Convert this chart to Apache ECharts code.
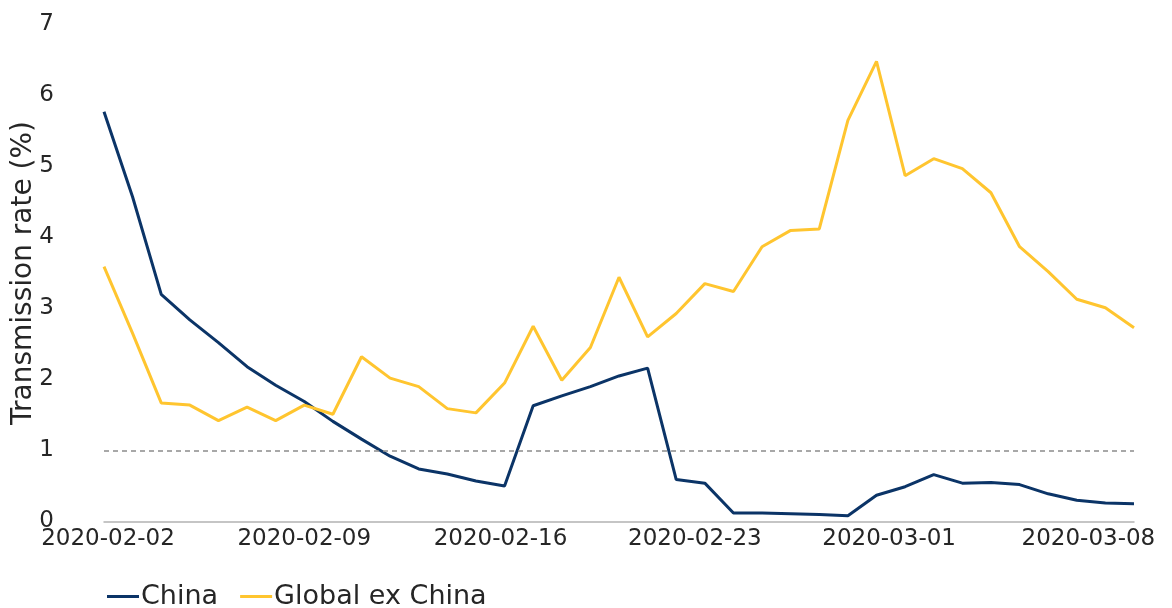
<!DOCTYPE html>
<html>
<head>
<meta charset="utf-8">
<script src="https://cdn.jsdelivr.net/npm/echarts@6/dist/echarts.min.js"></script>
<style>
  html, body { margin: 0; padding: 0; background: #ffffff; }
  #chart { width: 1172px; height: 608px; }
</style>
</head>
<body>
<div id="chart"></div>
<script>
const categories = [
  "2020-02-02","2020-02-03","2020-02-04","2020-02-05","2020-02-06","2020-02-07","2020-02-08",
  "2020-02-09","2020-02-10","2020-02-11","2020-02-12","2020-02-13","2020-02-14","2020-02-15",
  "2020-02-16","2020-02-17","2020-02-18","2020-02-19","2020-02-20","2020-02-21","2020-02-22",
  "2020-02-23","2020-02-24","2020-02-25","2020-02-26","2020-02-27","2020-02-28","2020-02-29",
  "2020-03-01","2020-03-02","2020-03-03","2020-03-04","2020-03-05","2020-03-06","2020-03-07",
  "2020-03-08","2020-03-09"
];
const china = [
  5.77, 4.57, 3.20, 2.84, 2.52, 2.18, 1.92,
  1.69, 1.41, 1.16, 0.92, 0.74, 0.67, 0.57,
  0.50, 1.63, 1.77, 1.90, 2.05, 2.16, 0.59,
  0.54, 0.12, 0.12, 0.11, 0.10, 0.08, 0.37,
  0.49, 0.66, 0.54, 0.55, 0.52, 0.39, 0.30,
  0.26, 0.25
];
const globalExChina = [
  3.59, 2.65, 1.67, 1.64, 1.42, 1.61, 1.42,
  1.64, 1.51, 2.32, 2.02, 1.90, 1.59, 1.53,
  1.95, 2.75, 1.99, 2.45, 3.44, 2.60, 2.93,
  3.35, 3.24, 3.87, 4.10, 4.12, 5.65, 6.48,
  4.87, 5.11, 4.97, 4.63, 3.87, 3.52, 3.13,
  3.01, 2.73
];
const seriesNames = ["China", "Global ex China"];
const yAxisTitle = "Transmission rate (%)";
const thresholdValue = 1;

const FONT = "DejaVu Sans";
const TEXT = "#262626";
const TICK_FONT = 23;

// Style: small horizontal nudges of the x tick labels (px, negative = left), per shown label.
const labelNudge = { 0: 4, 7: 0, 14: -4, 21: -10, 28: -16, 35: -17 };
const richStyles = {};
Object.keys(labelNudge).forEach(function (k) {
  const n = labelNudge[k];
  richStyles['l' + k] = {
    fontFamily: FONT, fontSize: TICK_FONT, color: TEXT,
    padding: n < 0 ? [0, -2 * n, 0, 0] : [0, 0, 0, 2 * n]
  };
});

const chart = echarts.init(document.getElementById('chart'), null, { renderer: 'canvas' });
chart.setOption({
  animation: false,
  backgroundColor: '#ffffff',
  textStyle: { fontFamily: FONT },
  grid: { left: 104, right: 38, top: 24.5, bottom: 86.5, containLabel: false, outerBoundsMode: 'none' },
  legend: {
    data: seriesNames,
    left: 102,
    top: 578,
    icon: 'rect',
    itemWidth: 32,
    itemHeight: 3,
    itemGap: 22,
    textStyle: { fontFamily: FONT, fontSize: 27, color: TEXT, padding: [0, 0, 0, -3] }
  },
  xAxis: {
    type: 'category',
    data: categories,
    boundaryGap: false,
    axisLine: { show: true, lineStyle: { color: '#b3b3b3', width: 1.5 } },
    axisTick: { show: false },
    axisLabel: {
      interval: 6,
      fontFamily: FONT,
      fontSize: TICK_FONT,
      color: TEXT,
      margin: 6,
      hideOverlap: false,
      formatter: function (value, index) {
        return labelNudge.hasOwnProperty(index) ? '{l' + index + '|' + value + '}' : value;
      },
      rich: richStyles
    },
    splitLine: { show: false }
  },
  yAxis: {
    type: 'value',
    min: 0,
    max: 7,
    interval: 1,
    name: yAxisTitle,
    nameLocation: 'middle',
    nameGap: 66,
    nameMoveOverlap: false,
    nameTextStyle: { fontFamily: FONT, fontSize: 28, color: TEXT },
    axisLine: { show: false },
    axisTick: { show: false },
    splitLine: { show: false },
    axisLabel: { fontFamily: FONT, fontSize: TICK_FONT, color: TEXT, margin: 50 }
  },
  series: [
    {
      name: seriesNames[0],
      type: 'line',
      data: china,
      showSymbol: false,
      symbol: 'none',
      lineStyle: { color: '#0b3467', width: 3 },
      itemStyle: { color: '#0b3467' },
      markLine: {
        silent: true,
        symbol: ['none', 'none'],
        label: { show: false },
        lineStyle: { color: '#8c8c8c', type: [5, 4], width: 1.5 },
        data: [{ yAxis: thresholdValue }]
      }
    },
    {
      name: seriesNames[1],
      type: 'line',
      data: globalExChina,
      showSymbol: false,
      symbol: 'none',
      lineStyle: { color: '#ffc52f', width: 3 },
      itemStyle: { color: '#ffc52f' }
    }
  ]
});
</script>
</body>
</html>
